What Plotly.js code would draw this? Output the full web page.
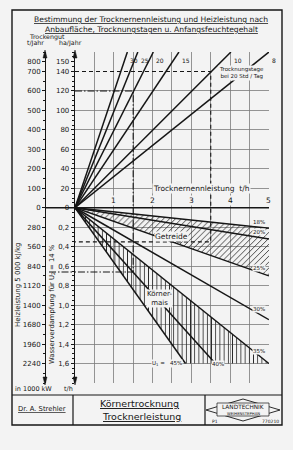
<!DOCTYPE html>
<html><head><meta charset="utf-8">
<script src="https://cdn.plot.ly/plotly-3.0.1.min.js"></script>
<style>html,body{margin:0;padding:0;background:#f3f3f3;}#chart{width:293px;height:450px;}</style>
</head><body><div id="chart"></div>
<script>
// ---------- data ----------
// upper half: Trocknungstage (drying days at 20 h/day), lines from origin to their end on the top edge
const dayLabels = ['30','25','20','15','10','8'];
const dayEndX   = [1.35, 1.62, 2.02, 2.68, 4.02, 5.0];   // t/h
const dayEndHa  = [160, 160, 160, 160, 160, 160];        // ha/Jahr
// lower half: initial moisture U1, lines from origin
const moistLabels = ['18%','20%','25%','30%','35%','40%','45%'];
const moistEndX   = [5.0, 5.0, 5.0, 5.0, 5.0, 3.62, 2.85]; // t/h
const moistEndEv  = [0.21, 0.32, 0.70, 1.15, 1.60, 1.60, 1.60]; // t/h water evaporation
// axis ticks
const xTickVals = [1,2,3,4,5];
const haTicks   = [0,20,40,60,80,100,120,140,150];
const tJahrText = ['0','100','200','300','400','500','600','700','800'];
const evTicks   = [0.2,0.4,0.6,0.8,1.0,1.2,1.4,1.6];
const evText    = ['0,2','0,4','0,6','0,8','1,0','1,2','1,4','1,6'];
const heizText  = ['280','560','840','1120','1400','1680','1960','2240'];
// worked examples (read)
const exGetreide = {x:3.5, ha:140, ev:0.35};
const exMais     = {x:1.5, ha:120, ev:0.66};

// ---------- helpers ----------
const EV = 100; // lower half: 1 t/h evaporation drawn as 100 units of the shared vertical axis
const W=293,H=450, PL=45, PR=269, PT=52, PB=383;
const px = v => (v-PL)/(PR-PL);
const py = v => (PB-v)/(PB-PT);
const INK='#161616', GRID='#7a7a7a', BG='#f3f3f3';
const FONT='DejaVu Sans';

const traces = [];
function fillPair(iA,iB,shape){
  traces.push({x:[0,moistEndX[iA]], y:[0,-moistEndEv[iA]*EV], mode:'lines', line:{width:0,color:'rgba(0,0,0,0)'}, showlegend:false, hoverinfo:'skip'});
  traces.push({x:[0,moistEndX[iB]], y:[0,-moistEndEv[iB]*EV], mode:'lines', line:{width:0,color:'rgba(0,0,0,0)'}, fill:'tonexty', fillcolor:'rgba(0,0,0,0)',
    fillpattern:{shape:shape, fgcolor:'#2a2a2a', bgcolor:'rgba(0,0,0,0)', size:4.2, solidity:0.2, fillmode:'replace'}, showlegend:false, hoverinfo:'skip'});
}
fillPair(0,2,'/');
fillPair(4,6,'|');

traces.push({x:[0,exGetreide.x,exGetreide.x,0], y:[exGetreide.ha,exGetreide.ha,-exGetreide.ev*EV,-exGetreide.ev*EV], mode:'lines',
  line:{color:INK,width:1.1,dash:'4px,3px'}, showlegend:false, hoverinfo:'skip'});
traces.push({x:[0,exMais.x,exMais.x,0], y:[exMais.ha,exMais.ha,-exMais.ev*EV,-exMais.ev*EV], mode:'lines',
  line:{color:INK,width:1.1,dash:'7px,2px,1.5px,2px'}, showlegend:false, hoverinfo:'skip'});

dayEndX.forEach((x,i)=>traces.push({x:[0,x], y:[0,dayEndHa[i]], mode:'lines', line:{color:INK,width:1.5}, showlegend:false, hoverinfo:'skip'}));
moistEndX.forEach((x,i)=>traces.push({x:[0,x], y:[0,-moistEndEv[i]*EV], mode:'lines', line:{color:INK,width:1.5}, showlegend:false, hoverinfo:'skip'}));
traces.push({x:[0],y:[0],yaxis:'y2',mode:'none',showlegend:false,hoverinfo:'skip'});
traces.push({x:[0],y:[0],yaxis:'y3',mode:'none',showlegend:false,hoverinfo:'skip'});

const yr=[-180,160];
const innerVals = haTicks.concat(evTicks.map(v=>-v*EV));
const innerText = haTicks.map(String).concat(evText);
const outerText = tJahrText.concat(heizText);
const gridVals = haTicks.filter(v=>v>0&&v<=120).concat(evTicks.map(v=>-v*EV));

const ann = [];
const A = (o)=>ann.push(Object.assign({showarrow:false, xanchor:'center', yanchor:'middle', font:{family:FONT,size:7,color:INK}},o));
const P = (x,y,text,size,extra)=>A(Object.assign({x:px(x),y:py(y),xref:'paper',yref:'paper',text:text,font:{family:FONT,size:size,color:INK}},extra||{}));

xTickVals.forEach(v=>A({x:v,y:0,xref:'x',yref:'y',text:String(v),yanchor:'bottom',yshift:2,font:{family:FONT,size:7.5,color:INK},bgcolor:BG,borderpad:0}));
A({x:3.25,y:20,xref:'x',yref:'y',text:'Trocknernennleistung  t/h',font:{family:FONT,size:7.5,color:INK},bgcolor:BG,borderpad:0});
dayLabels.forEach((t,i)=>A({x:dayEndX[i],y:dayEndHa[i],xref:'x',yref:'y',text:t,xanchor:'left',yanchor:'top',xshift:1,yshift:-3,font:{family:FONT,size:6,color:INK}}));
A({x:4.3,y:138.5,xref:'x',yref:'y',text:'Trocknungstage<br>bei 20 Std / Tag',font:{family:FONT,size:5.5,color:INK},bgcolor:BG,borderpad:0});
for(let i=0;i<5;i++){
  const xl=4.75, yl=-moistEndEv[i]*EV*xl/moistEndX[i];
  A({x:xl,y:yl,xref:'x',yref:'y',text:moistLabels[i],yanchor:'bottom',yshift:1,font:{family:FONT,size:5.5,color:INK},bgcolor:BG,borderpad:0});
}
A({x:moistEndX[5],y:-moistEndEv[5]*EV,xref:'x',yref:'y',text:moistLabels[5],xshift:3,font:{family:FONT,size:5.5,color:INK},bgcolor:BG,borderpad:0});
A({x:moistEndX[6],y:-moistEndEv[6]*EV,xref:'x',yref:'y',text:'U<sub>1</sub> =   '+moistLabels[6],xanchor:'right',xshift:-3,font:{family:FONT,size:5.5,color:INK},bgcolor:BG,borderpad:0});
A({x:2.5,y:-29,xref:'x',yref:'y',text:'Getreide',font:{family:FONT,size:7.5,color:INK},bgcolor:BG,borderpad:0});
A({x:2.19,y:-93,xref:'x',yref:'y',text:'Körner-<br>mais',font:{family:FONT,size:7,color:INK},bgcolor:BG,borderpad:0});

P(151,20,'<u>Bestimmung der Trocknernennleistung und Heizleistung nach</u>',7.6);
P(151,29.5,'<u>Anbaufläche, Trocknungstagen u. Anfangsfeuchtegehalt</u>',7.6);
P(47,37,'Trockengut',6.3);
P(35,43.5,'t/Jahr',6.3);
P(70,43.5,'ha/Jahr',6.3);
P(18,285,'Heizleistung 5 000 kJ/kg',7,{textangle:-90});
P(52,304,'Wasserverdampfung für U<sub>2</sub> = 14 %',6.8,{textangle:-90});
P(33,389,'in 1000 kW',6.5);
P(68,389,'t/h',6.5);
P(42,409,'<u>Dr. A. Strehler</u>',6.8);
P(139,403,'<u>Körnertrocknung</u>',9.5);
P(141,416,'<u>Trocknerleistung</u>',9.5);
P(243,407.5,'LANDTECHNIK',5.8);
P(243,413.5,'WEIHENSTEPHAN',3.8);
P(215,421,'P1',4.5);
P(270,421,'770210',4.5);

const shapes = [];
const L=(x0,y0,x1,y1,w)=>shapes.push({type:'line',xref:'paper',yref:'paper',x0:px(x0),y0:py(y0),x1:px(x1),y1:py(y1),line:{color:INK,width:w||1.2}});
const path=(pts,fill,w)=>shapes.push({type:'path',xref:'paper',yref:'paper',path:'M'+pts.map(p=>px(p[0])+','+py(p[1])).join(' L')+' Z',line:{color:INK,width:w||0.9},fillcolor:fill||'rgba(0,0,0,0)'});
shapes.push({type:'rect',xref:'paper',yref:'paper',x0:px(12),y0:py(425),x1:px(282),y1:py(10),line:{color:INK,width:1.4}});
L(12,395,282,395,1.2); L(73,395,73,425,1.2); L(205,395,205,425,1.2);
// logo
path([[206,410],[243,399],[280,410],[243,421]]);
shapes.push({type:'rect',xref:'paper',yref:'paper',x0:px(217),y0:py(416),x1:px(269),y1:py(403),line:{color:INK,width:0.7},fillcolor:BG});
// axis arrowheads
[45,75].forEach(x=>{ path([[x-2,58],[x,50],[x+2,58]],INK,0.5); path([[x-2,377],[x,385],[x+2,377]],INK,0.5); });
shapes.push({type:'line',xref:'paper',yref:'y',x0:0,x1:1,y0:0,y1:0,line:{color:INK,width:1.6}});
shapes.push({type:'line',xref:'paper',yref:'y',x0:px(49),x1:px(75),y0:-exMais.ev*EV,y1:-exMais.ev*EV,line:{color:INK,width:1.1,dash:'7px,2px,1.5px,2px'}});

const layout = {
  width:W,height:H, margin:{l:PL,r:W-PR,t:PT,b:H-PB,pad:0},
  paper_bgcolor:BG, plot_bgcolor:BG, showlegend:false,
  xaxis:{domain:[px(75),1],range:[0,5.002],showgrid:true,dtick:0.5,tick0:0,gridcolor:GRID,gridwidth:0.8,showticklabels:false,ticks:'',zeroline:false,showline:false,fixedrange:true},
  yaxis:{range:yr,anchor:'x',tickvals:innerVals,ticktext:innerText,ticks:'outside',ticklen:3,tickcolor:INK,showline:true,linecolor:INK,linewidth:1.3,
    showgrid:false,zeroline:false,tickfont:{family:FONT,size:7,color:INK},minor:{dtick:5,ticks:'outside',ticklen:2,tickcolor:INK,showgrid:false},fixedrange:true},
  yaxis2:{range:yr,overlaying:'y',anchor:'free',position:0,side:'left',tickvals:innerVals,ticktext:outerText,ticks:'outside',ticklen:3,tickcolor:INK,
    showline:true,linecolor:INK,linewidth:1.3,showgrid:false,zeroline:false,tickfont:{family:FONT,size:7,color:INK},minor:{dtick:10,ticks:'outside',ticklen:2,tickcolor:INK},fixedrange:true},
  yaxis3:{range:yr,overlaying:'y',anchor:'x',tickvals:gridVals,showticklabels:false,ticks:'',showgrid:true,gridcolor:GRID,gridwidth:0.8,showline:false,zeroline:false,fixedrange:true},
  annotations:ann, shapes:shapes
};
Plotly.newPlot('chart',traces,layout,{displayModeBar:false,staticPlot:true});
</script></body></html>
